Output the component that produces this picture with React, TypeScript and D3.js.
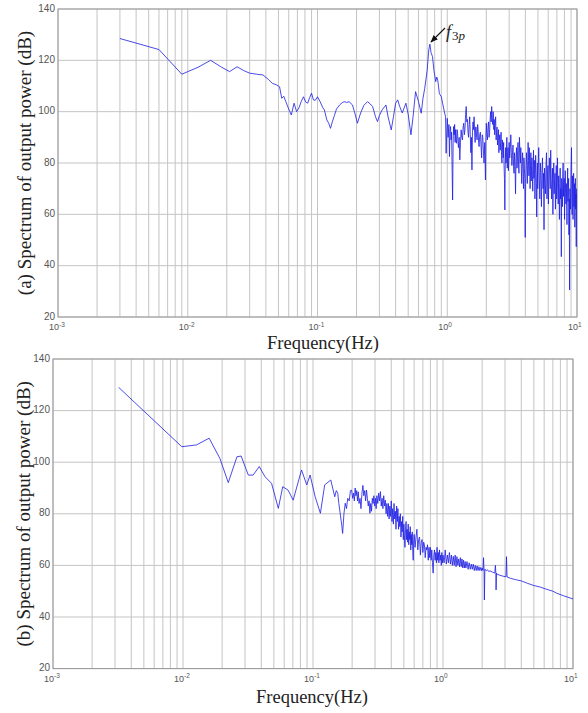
import React from 'react';
import * as d3 from 'd3';

const W = 588;
const H = 713;

const yTickValues = [20, 40, 60, 80, 100, 120, 140];
const xDecadeExponents = [-3, -2, -1, 0, 1];
const xDomain: [number, number] = [0.001, 10];
const yDomain: [number, number] = [20, 140];

// Panel (a): [frequency Hz, dB]
const spectrumALow: [number, number][] = [
  [0.003, 128.5], [0.006, 124.2], [0.009, 114.6], [0.012, 117.3], [0.015, 120], [0.018, 117.5],
  [0.021, 115.6], [0.024, 117.5], [0.027, 116], [0.030, 115], [0.034, 114.6], [0.038, 114.3],
  [0.042, 112.5], [0.045, 111], [0.048, 110.5], [0.051, 109.7], [0.053, 105.2], [0.055, 106],
  [0.057, 103.9], [0.060, 101], [0.0628, 98.7], [0.066, 103.3], [0.069, 100], [0.072, 101.5],
  [0.075, 104], [0.078, 105.8], [0.081, 103.8], [0.084, 103.3], [0.087, 105.5], [0.090, 107.2],
  [0.093, 104.6], [0.096, 104.4], [0.100, 105.8], [0.105, 103.8], [0.110, 101.5], [0.113, 100.7],
  [0.118, 96.8], [0.122, 95.5], [0.126, 93.5], [0.130, 96], [0.135, 98.5], [0.140, 101],
  [0.148, 102.6], [0.155, 103.5], [0.161, 103.9], [0.168, 103.6], [0.175, 103.9], [0.186, 102.6],
  [0.195, 99], [0.203, 95.5], [0.215, 99.5], [0.228, 102.5], [0.243, 103.9], [0.255, 103],
  [0.266, 102], [0.28, 98], [0.29, 96.1], [0.30, 98.5], [0.315, 100.7], [0.337, 102.6],
  [0.35, 98], [0.37, 92.9], [0.385, 98], [0.40, 103.3], [0.415, 104.6], [0.43, 102],
  [0.45, 99.5], [0.48, 103.3], [0.50, 99], [0.525, 91], [0.545, 98], [0.57, 107.8],
  [0.60, 104], [0.63, 99.4], [0.65, 105.2], [0.67, 109], [0.70, 116], [0.72, 124],
  [0.735, 126.3], [0.75, 123], [0.77, 121.4], [0.79, 116], [0.815, 111.7], [0.83, 113.5],
  [0.845, 112.3], [0.87, 107], [0.90, 105.8], [0.92, 103.3], [0.95, 100], [0.97, 98],
  [0.98, 83.8],
];

const spectrumAMid: [number, number][] = [
  [1.00, 97.4], [1.015, 90], [1.03, 95], [1.04, 82.5], [1.05, 92], [1.06, 94.2], [1.07, 89],
  [1.08, 92], [1.09, 78], [1.10, 65.6], [1.11, 88], [1.12, 94.2], [1.13, 91], [1.14, 95],
  [1.15, 88], [1.16, 93], [1.17, 89], [1.18, 87.7], [1.19, 93], [1.20, 92], [1.21, 88],
  [1.22, 86], [1.235, 90], [1.25, 81.2], [1.265, 88], [1.28, 92.9], [1.295, 90], [1.31, 89],
  [1.325, 94], [1.34, 95.5], [1.355, 91], [1.37, 93], [1.385, 99], [1.40, 102], [1.415, 96],
  [1.43, 97], [1.445, 92], [1.46, 90], [1.475, 95], [1.49, 98], [1.505, 91], [1.52, 84],
  [1.535, 90], [1.55, 77.3], [1.565, 92], [1.58, 96], [1.595, 93], [1.61, 98], [1.625, 92],
  [1.64, 88], [1.655, 94], [1.67, 94], [1.685, 90], [1.70, 89], [1.715, 95], [1.73, 93],
  [1.745, 88], [1.76, 86.4], [1.78, 91], [1.80, 92], [1.82, 87], [1.84, 82], [1.86, 91],
  [1.88, 90], [1.90, 85], [1.92, 80], [1.945, 88], [1.97, 73.4], [1.985, 90], [2.00, 95.5],
  [2.02, 91], [2.04, 89], [2.06, 94], [2.08, 96], [2.10, 90], [2.12, 92], [2.14, 97],
  [2.16, 100], [2.18, 96], [2.20, 102], [2.22, 97], [2.24, 95], [2.255, 100], [2.27, 99],
  [2.285, 93],
  [2.30, 97], [2.32, 91], [2.34, 95], [2.36, 98], [2.38, 89], [2.40, 92], [2.42, 94],
  [2.44, 87], [2.46, 90], [2.48, 93], [2.50, 84], [2.52, 89], [2.54, 91], [2.56, 85],
  [2.58, 88], [2.60, 92], [2.62, 83], [2.64, 80], [2.66, 89], [2.68, 85], [2.70, 82],
  [2.72, 88], [2.74, 79], [2.76, 74], [2.78, 61.7], [2.80, 80], [2.82, 86], [2.84, 80],
  [2.86, 84], [2.88, 90], [2.90, 78], [2.92, 83], [2.94, 86], [2.96, 77], [2.98, 81],
  [3.00, 88],
];

const spectrumAHigh: [number, number][] = [
  [3.03, 82], [3.06, 86], [3.09, 91], [3.12, 84], [3.15, 79], [3.18, 83], [3.21, 87],
  [3.24, 80], [3.27, 76], [3.30, 84], [3.33, 79], [3.36, 68], [3.39, 82], [3.42, 86],
  [3.45, 78], [3.48, 83], [3.51, 88], [3.54, 80], [3.57, 76], [3.60, 90], [3.63, 84],
  [3.66, 80], [3.69, 86], [3.72, 78], [3.75, 72], [3.78, 81], [3.81, 84], [3.84, 76],
  [3.87, 70], [3.90, 82], [3.93, 78], [3.96, 74], [3.99, 51], [4.02, 72], [4.05, 78],
  [4.08, 84], [4.11, 79], [4.14, 72], [4.17, 80], [4.20, 88], [4.23, 81], [4.26, 75],
  [4.29, 86], [4.32, 79], [4.35, 70], [4.38, 77], [4.41, 84], [4.44, 73], [4.47, 79],
  [4.50, 82], [4.53, 75], [4.56, 69], [4.59, 78], [4.62, 85], [4.65, 74], [4.68, 80],
  [4.71, 81], [4.74, 66], [4.77, 76], [4.80, 83], [4.83, 77], [4.86, 72], [4.89, 59],
  [4.92, 74], [4.95, 80], [4.98, 70],
  [5.02, 78], [5.07, 86], [5.12, 74], [5.17, 66], [5.22, 80], [5.27, 75], [5.32, 63],
  [5.37, 77], [5.42, 82], [5.47, 70], [5.52, 76], [5.57, 54], [5.62, 78], [5.67, 72],
  [5.72, 68], [5.77, 79], [5.82, 84], [5.87, 66], [5.92, 75], [5.97, 79], [6.02, 64],
  [6.07, 73], [6.12, 82], [6.17, 76], [6.22, 70], [6.27, 85], [6.32, 74], [6.37, 66],
  [6.42, 72], [6.47, 78], [6.52, 60], [6.57, 74], [6.62, 80], [6.67, 68], [6.72, 73],
  [6.77, 76], [6.82, 62], [6.87, 71], [6.92, 79], [6.97, 66], [7.02, 72], [7.07, 82],
  [7.12, 70], [7.17, 64], [7.22, 75], [7.27, 69], [7.32, 58], [7.37, 72], [7.42, 78],
  [7.47, 66], [7.52, 70], [7.57, 43.5], [7.62, 74], [7.67, 69], [7.72, 63], [7.77, 76],
  [7.82, 80], [7.87, 67], [7.92, 72], [7.97, 74], [8.02, 58], [8.07, 70], [8.12, 77],
  [8.17, 68], [8.22, 64], [8.27, 72], [8.32, 66], [8.37, 56], [8.42, 70], [8.47, 78],
  [8.52, 65], [8.57, 71], [8.62, 74], [8.67, 52], [8.72, 66], [8.77, 30.5], [8.82, 70],
  [8.87, 66], [8.92, 62], [8.97, 75], [9.02, 80], [9.07, 86], [9.12, 68], [9.17, 60],
  [9.22, 75], [9.27, 70], [9.32, 58], [9.37, 72], [9.42, 76], [9.47, 63], [9.52, 69],
  [9.57, 72], [9.62, 55], [9.67, 70], [9.72, 74], [9.77, 62], [9.82, 68], [9.87, 47.4],
  [9.92, 66], [9.97, 70], [10.0, 66],
];

// Panel (b): [frequency Hz, dB]
const spectrumBLow: [number, number][] = [
  [0.0032, 129], [0.0098, 106], [0.0127, 106.7], [0.0159, 109.3], [0.0192, 101.5], [0.0223, 92.1],
  [0.026, 102.1], [0.028, 102.4], [0.0318, 95], [0.0346, 95], [0.0386, 98.3], [0.0427, 94.4],
  [0.048, 91.8], [0.0541, 82.1], [0.0585, 90.5], [0.0643, 89.2], [0.0704, 85.3], [0.0816, 97],
  [0.0895, 91.2], [0.095, 95], [0.1039, 86.6], [0.114, 80.2], [0.123, 91.2], [0.137, 93.1],
];

const spectrumBMid: [number, number][] = [
  [0.147, 86.6], [0.151, 89], [0.155, 88], [0.158, 84], [0.162, 80], [0.166, 76], [0.169, 72.4],
  [0.173, 80], [0.177, 84.1], [0.181, 82], [0.185, 86], [0.19, 85], [0.194, 89], [0.198, 89.2],
  [0.202, 86], [0.205, 88], [0.208, 85], [0.211, 90], [0.214, 87], [0.217, 89], [0.22, 85],
  [0.223, 88.5], [0.226, 84], [0.23, 86], [0.234, 82], [0.238, 88], [0.242, 91], [0.246, 87],
  [0.25, 89], [0.254, 85], [0.258, 89.2], [0.262, 86], [0.266, 83], [0.27, 85], [0.274, 80.2],
  [0.278, 84], [0.282, 81], [0.286, 86], [0.29, 84], [0.294, 87], [0.298, 83], [0.302, 86],
  [0.306, 82], [0.31, 87], [0.315, 84], [0.32, 88], [0.325, 85], [0.33, 88.6], [0.335, 83],
  [0.34, 86], [0.345, 82], [0.35, 87], [0.355, 83], [0.36, 85.3], [0.365, 80], [0.37, 84],
  [0.375, 79], [0.38, 84], [0.385, 78], [0.39, 83], [0.395, 79], [0.40, 85], [0.405, 77],
  [0.41, 82], [0.415, 76], [0.42, 84], [0.425, 78], [0.43, 81], [0.435, 74], [0.44, 83],
  [0.445, 77], [0.45, 82], [0.455, 74], [0.46, 79], [0.465, 75], [0.47, 80], [0.475, 71],
  [0.48, 77], [0.485, 73], [0.49, 79], [0.495, 70], [0.50, 76], [0.505, 71], [0.51, 67],
  [0.515, 74], [0.52, 77], [0.525, 70], [0.53, 74], [0.535, 69], [0.54, 76], [0.545, 68],
  [0.55, 73], [0.555, 70], [0.56, 75], [0.565, 66], [0.57, 72], [0.575, 68], [0.58, 73],
  [0.585, 66], [0.59, 62], [0.595, 70], [0.60, 72], [0.61, 67], [0.62, 71], [0.63, 74],
  [0.64, 66], [0.65, 70], [0.66, 71], [0.67, 64], [0.68, 69], [0.69, 70], [0.70, 65],
  [0.71, 69], [0.72, 68], [0.73, 63], [0.74, 67], [0.75, 66], [0.76, 68], [0.77, 62],
  [0.78, 67], [0.79, 63], [0.80, 67], [0.81, 62], [0.82, 66], [0.83, 61], [0.84, 57],
  [0.85, 64], [0.86, 66], [0.87, 62], [0.88, 65], [0.89, 61], [0.90, 67], [0.91, 62],
  [0.92, 65], [0.93, 61], [0.94, 66], [0.95, 62], [0.96, 64], [0.97, 60], [0.98, 65],
  [0.99, 61], [1.00, 64], [1.02, 61], [1.04, 66], [1.06, 60.5], [1.08, 64], [1.10, 61],
  [1.12, 65], [1.14, 60.5], [1.16, 64], [1.18, 60], [1.20, 63.5], [1.22, 60], [1.24, 64],
  [1.26, 59.5], [1.28, 63.4], [1.30, 60], [1.32, 62.5], [1.34, 59.5], [1.36, 63], [1.38, 59.5],
  [1.40, 62.5], [1.42, 59], [1.44, 62], [1.46, 59], [1.48, 61.5], [1.50, 59], [1.53, 61.5],
  [1.56, 58.5], [1.59, 61], [1.62, 58.5], [1.65, 60.5], [1.68, 58.5], [1.71, 60.5], [1.74, 58],
  [1.77, 60], [1.80, 58], [1.83, 59.8], [1.86, 58], [1.89, 59.5], [1.92, 58], [1.95, 59.2],
  [1.98, 58], [2.00, 59], [2.03, 58], [2.05, 63], [2.07, 58], [2.08, 46.6], [2.10, 58.5],
  [2.15, 58], [2.20, 58.3], [2.25, 57.6], [2.30, 57.9], [2.40, 57.4], [2.50, 57], [2.53, 60],
  [2.55, 57], [2.56, 50.5], [2.58, 57], [2.62, 56.5],
];

const spectrumBHigh: [number, number][] = [
  [2.70, 56.3], [2.90, 55.8], [3.05, 55.6], [3.08, 63.4], [3.11, 55.5], [3.30, 55],
  [3.60, 54.5], [4.00, 54], [4.50, 53], [5.00, 52.2], [5.60, 51.6], [6.30, 50.7],
  [7.00, 50], [7.50, 49.2], [8.50, 48.2], [10.0, 47],
];

const labelA = '(a) Spectrum of output power (dB)';
const labelB = '(b) Spectrum of output power (dB)';
const xTitle = 'Frequency(Hz)';

type PanelProps = {
  data: [number, number][];
  left: number; right: number; top: number; bottom: number;
  ylabel: string; ylabelX: number; xlabelX: number; xlabelY: number;
  id: string;
};

function Panel({ data, left, right, top, bottom, ylabel, ylabelX, xlabelX, xlabelY, id }: PanelProps) {
  const x = d3.scaleLog().domain(xDomain).range([left, right]);
  const y = d3.scaleLinear().domain(yDomain).range([bottom, top]);
  const gridX = x.ticks();
  const line = d3.line<[number, number]>().x(d => x(d[0])).y(d => y(d[1]));
  const gridColor = '#c4c4c4';
  const tickColor = '#555';
  const tickFont = 'Liberation Sans, Arial, sans-serif';
  return (
    <g>
      <defs>
        <clipPath id={`clip-${id}`}>
          <rect x={left} y={top} width={right - left} height={bottom - top} />
        </clipPath>
      </defs>
      {gridX.map((v, i) => (
        <line key={`gx${i}`} x1={x(v)} x2={x(v)} y1={top} y2={bottom} stroke={gridColor} strokeWidth={1} />
      ))}
      {yTickValues.map((v, i) => (
        <line key={`gy${i}`} x1={left} x2={right} y1={y(v)} y2={y(v)} stroke={gridColor} strokeWidth={1} />
      ))}
      <rect x={left} y={top} width={right - left} height={bottom - top} fill="none" stroke="#999" strokeWidth={1} />
      <path d={line(data) || ''} fill="none" stroke="#1c1ce4" strokeWidth={0.8} strokeLinejoin="round" clipPath={`url(#clip-${id})`} />
      {yTickValues.map((v, i) => (
        <text key={`ty${i}`} x={left - 3} y={y(v)} dy="0.25em" textAnchor="end" fontFamily={tickFont} fontSize={10} fill={tickColor}>{v}</text>
      ))}
      {xDecadeExponents.map((e, i) => {
        const xp = x(Math.pow(10, e));
        return (
          <g key={`tx${i}`}>
            <text x={xp + 1} y={bottom + 13} textAnchor="end" fontFamily={tickFont} fontSize={9} fill={tickColor}>10</text>
            <text x={xp + 1} y={bottom + 9.5} textAnchor="start" fontFamily={tickFont} fontSize={6.5} fill={tickColor}>{e}</text>
          </g>
        );
      })}
      <text x={xlabelX} y={xlabelY} textAnchor="middle" fontFamily="Liberation Serif, Times New Roman, serif" fontSize={18.5} fill="#222">{xTitle}</text>
      <text transform={`translate(${ylabelX},${(top + bottom) / 2}) rotate(-90)`} textAnchor="middle" fontFamily="Liberation Serif, Times New Roman, serif" fontSize={19} fill="#222">{ylabel}</text>
    </g>
  );
}

export default function App() {
  const dataA = [...spectrumALow, ...spectrumAMid, ...spectrumAHigh];
  const dataB = [...spectrumBLow, ...spectrumBMid, ...spectrumBHigh];
  return (
    <svg width={W} height={H} style={{ position: 'absolute', left: 0, top: 0, background: '#fff' }}>
      <defs>
        <marker id="arrowhead" viewBox="0 0 10 10" refX={9} refY={5} markerWidth={7} markerHeight={7} orient="auto">
          <path d="M0,1 L10,5 L0,9 z" fill="#111" />
        </marker>
      </defs>
      <rect x={0} y={0} width={W} height={H} fill="#fff" />
      <Panel id="a" data={dataA} left={58} right={577} top={9} bottom={317} ylabel={labelA} ylabelX={31} xlabelX={323} xlabelY={348.5} />
      <Panel id="b" data={dataB} left={53} right={573} top={359} bottom={668.6} ylabel={labelB} ylabelX={30} xlabelX={312} xlabelY={703} />
      <line x1={445} y1={28} x2={431} y2={42} stroke="#111" strokeWidth={1.1} markerEnd="url(#arrowhead)" />
      <text x={446} y={38} fontFamily="Liberation Serif, Times New Roman, serif" fontSize={18} fill="#222">
        <tspan fontStyle="italic">f</tspan>
        <tspan fontSize={13} dy={2} dx={1}>3</tspan>
        <tspan fontSize={13} fontStyle="italic">p</tspan>
      </text>
    </svg>
  );
}
